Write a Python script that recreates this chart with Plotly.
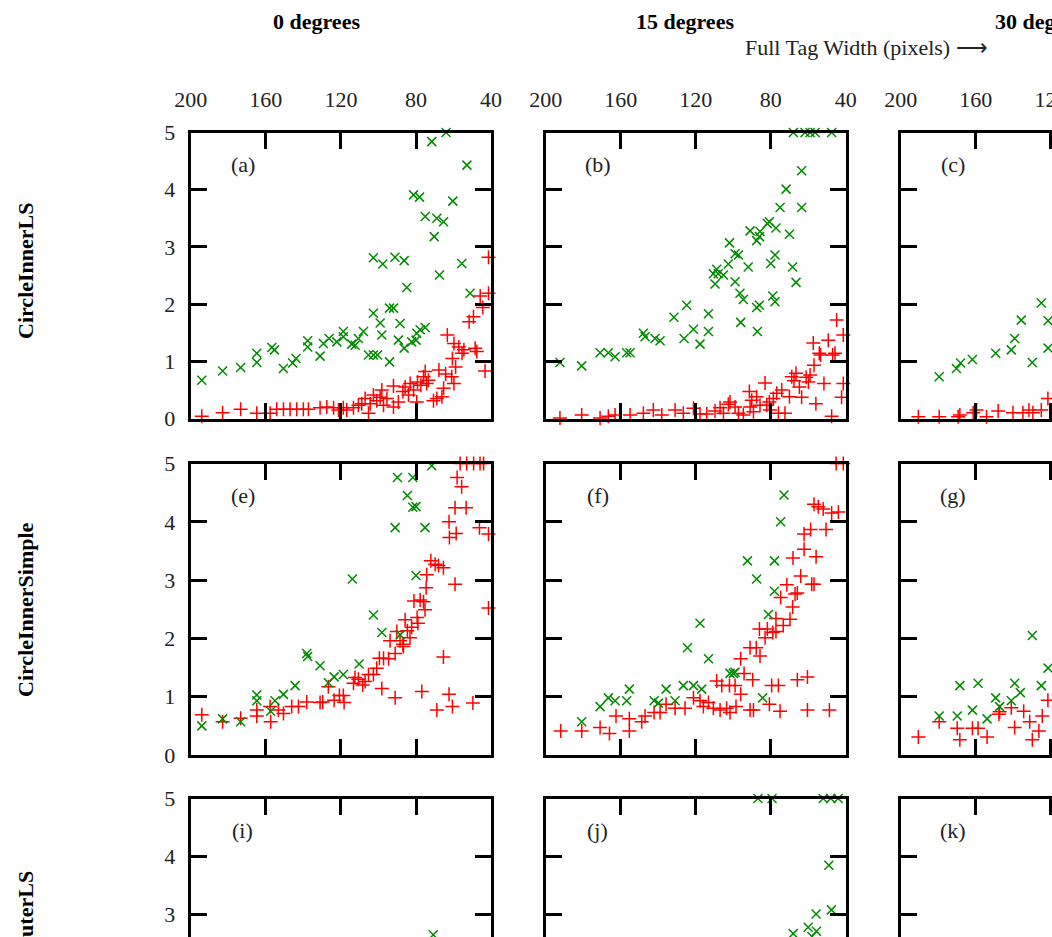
import plotly.graph_objects as go

W, H = 1052, 937
OFF = 0  # body margin removed by post_script below

# ---------------- data (tag width in pixels, value) ----------------
# panel (a)  CircleInnerLS, 0 degrees
a_grn_w = [194.1,183,173.4,164.8,164.8,156.8,155.4,150.6,145.7,143.9,137.7,137.7,131.1,129.3,126.3,122.2,118.7,118.7,114.2,112.4,110.7,108,105.3,102.7,100.5,102.7,99.1,98.2,94.1,92,94.1,89.4,88.5,86.3,82.3,80,79.6,75.1,77.8,102.7,97.7,91.2,86.3,84.9,81.3,78.1,75.1,70.3,68.9,65.3,67.5,71.6,64,60.4,55.6,52.9,51.2]
a_grn_v = [0.67,0.83,0.89,1.14,0.98,1.24,1.20,0.875,0.97,1.05,1.36,1.25,1.09,1.31,1.40,1.34,1.52,1.43,1.30,1.28,1.40,1.52,1.11,1.11,1.11,1.84,1.67,1.46,1.93,1.93,0.99,1.37,1.66,1.23,1.34,1.37,1.49,1.59,1.55,2.81,2.70,2.82,2.76,2.29,3.91,3.87,3.53,3.18,3.50,3.44,2.51,4.84,5.0,3.80,2.71,4.43,2.19]
a_red_w = [194.1,183,173.4,164.8,157.7,154.2,150.6,147.1,143.5,140,137.3,131.1,127.5,123.9,121.3,118.7,116.9,113.3,110.7,108.9,107.1,105.3,104.4,102.7,100.9,99.1,98.2,97.3,95.5,92,92,89.4,87,85.8,84,83.1,81.3,79.6,79.2,77.4,76,74.3,75.1,73.4,70.7,68.9,66.2,65.3,67.8,64.2,61,59.8,63.3,60.6,59.8,58.9,57.2,54.5,55.5,51.7,49.4,47.6,45.8,44.4,48.5,43.2,41.4,41.4,39.6]
a_red_v = [0.04,0.10,0.16,0.09,0.09,0.16,0.16,0.16,0.16,0.16,0.16,0.19,0.20,0.19,0.15,0.19,0.15,0.19,0.23,0.26,0.35,0.09,0.26,0.41,0.31,0.37,0.50,0.23,0.35,0.57,0.20,0.29,0.47,0.55,0.41,0.61,0.50,0.29,0.64,0.58,0.73,0.61,0.82,0.67,0.31,0.35,0.38,0.53,0.85,0.78,0.73,0.61,1.46,1.05,1.31,0.90,1.25,1.20,1.14,1.69,1.78,1.17,2.14,1.94,1.23,0.83,2.82,2.19,1.40]

# panel (b)  CircleInnerLS, 15 degrees
b_grn_w = [192.4,180.8,171,166.6,163,156.8,155,147.9,147,141.7,139,131.6,126.2,124.8,121.2,117.7,113.2,113.2,110.6,108.8,109.7,108,105.2,102.6,102,99,99,97.2,96.4,94.6,96,92,91,87.5,86,85.7,87.5,86,87.1,81.8,80.7,80,77.7,78.9,77.7,77.2,75,71.8,70,68.3,66.5,63.5,63.5,67.9,61.7,59,56.3,47.5]
b_grn_v = [0.98,0.92,1.15,1.15,1.08,1.15,1.15,1.49,1.43,1.40,1.36,1.77,1.40,1.98,1.56,1.30,1.83,1.52,2.53,2.61,2.35,2.53,2.51,2.70,3.07,2.39,2.88,2.86,2.19,2.08,1.68,2.65,3.28,3.11,3.18,3.27,1.94,1.98,1.52,3.41,3.44,2.71,2.86,2.14,2.04,3.33,3.69,4.01,3.22,2.65,2.38,4.33,3.69,5.0,5.0,5.0,5.0,5.0]
b_red_w = [192.4,180.8,171,166.6,163,155,147.9,142.6,138.1,131,126.6,121.2,117.7,114.1,109.7,107,105.2,102.6,101.7,99,97.2,94.6,91.4,91,90.1,89.2,87.5,85.7,83,82.1,80.7,80.4,78.6,76.8,75.9,74.1,72.4,70,68.8,67.6,66.5,64.7,63.5,61.1,59.9,59,57.3,56.9,55.9,54.1,53.4,51.6,49.3,47.5,47,45.7,44.8,42.2,41.3,41.3,38.5]
b_red_v = [0.01,0.06,0.01,0.04,0.06,0.06,0.09,0.15,0.06,0.15,0.09,0.18,0.08,0.08,0.13,0.19,0.09,0.25,0.29,0.20,0.09,0.06,0.47,0.20,0.32,0.12,0.38,0.23,0.62,0.23,0.29,0.15,0.35,0.44,0.09,0.50,0.09,0.38,0.73,0.66,0.79,0.55,0.37,0.72,0.64,0.76,1.32,0.93,0.26,1.14,1.11,0.61,1.37,0.04,1.11,1.14,1.72,0.37,1.46,0.61,0.57]

# panel (c)  CircleInnerLS, 30 degrees (partly visible)
c_grn_w = [179.5,170.3,168.1,161.8,149.4,141.1,139.3,135.8,129.9,125.1,121.5,121.5]
c_grn_v = [0.73,0.875,0.97,1.03,1.14,1.20,1.40,1.72,0.98,2.02,1.71,1.23]
c_red_w = [190.6,179.5,169.4,168.5,161.4,159.6,154.3,148.1,140.2,134.9,131.7,129.6,125.1,121.6]
c_red_v = [0.03,0.03,0.03,0.06,0.10,0.15,0.03,0.13,0.10,0.10,0.15,0.10,0.15,0.35]

# panel (e)  CircleInnerSimple, 0 degrees
e_grn_w = [194.1,183,173.4,164.8,164.8,157.4,155.1,150.6,144.4,138.2,137.7,131.1,126.7,123.6,118.7,113.9,110.3,102.7,98.2,88.5,91.1,89.9,81.7,84.6,81.7,80,75.2,80,71.6]
e_grn_v = [0.50,0.62,0.57,1.03,0.93,0.75,0.93,1.04,1.19,1.74,1.69,1.53,1.24,1.34,1.38,3.02,1.56,2.40,2.10,2.06,3.90,4.76,4.76,4.45,4.25,4.26,3.90,3.08,4.96]
e_red_w = [194.1,183,173.4,164.8,164.8,157.4,157.7,153.3,150.6,146.2,142.6,138.2,131.1,129.7,126.7,123.6,120.8,118.7,118.3,113.3,112.5,110.7,108.4,107.1,105.3,102.7,100.9,99.5,97.3,94.6,98.2,93.8,91.1,91.1,90.2,88.5,87,86.7,85.8,84.6,83.2,82.3,81.1,79.4,79,77.8,76,75.2,74.6,74.3,72.1,69.8,68,65.4,76.9,68.9,65.4,62.4,60.6,59.2,62.2,62.4,58.6,59.2,53.3,58.1,55.7,49.7,46.2,41.4,41.4,39.6,56.5,53,49.3,45.9,44]
e_red_v = [0.69,0.57,0.63,0.77,0.67,0.57,0.83,0.77,0.71,0.83,0.83,0.91,0.90,0.91,1.17,0.94,1.02,1.02,0.90,1.23,1.33,1.30,1.20,1.26,1.38,1.38,1.49,1.66,1.66,1.65,1.14,1.96,1.74,0.98,2.12,1.96,1.90,1.86,2.32,2.13,2.01,2.19,2.64,2.36,2.26,2.66,2.63,2.49,2.87,3.09,3.33,3.27,3.25,3.21,1.09,0.77,1.68,1.04,0.83,2.93,3.73,4.00,3.80,4.24,4.24,4.76,4.60,0.89,3.90,3.79,2.52,4.15,5.0,5.0,5.0,5.0,5.0]

# panel (f)  CircleInnerSimple, 15 degrees
f_grn_w = [180.8,171,166.6,163,156.8,155.4,142.2,139.9,135.8,131,126.6,121.2,116.8,124.4,117.7,113.2,101.7,99,99.9,92.4,87.5,84.3,81.2,78,78,74.7,72.9]
f_grn_v = [0.57,0.83,0.98,0.93,0.93,1.13,0.93,0.89,1.13,0.93,1.19,1.19,1.13,1.84,2.26,1.65,1.40,1.42,1.40,3.33,3.02,0.98,2.41,2.81,3.33,4.00,4.46]
f_red_w = [192,180.8,171,166,162.5,155.4,155.4,148.8,147,142.2,139,135.8,131,125.7,121.2,117.7,115.9,113.2,110.6,107,103.5,101.7,98.5,108.8,106.1,102,99,96,96,94.2,91,89.6,91,89.2,87.7,86,85.7,83,81.8,80.7,79.5,75.9,78.9,77.2,77.2,75,74.7,73.3,71.4,69.7,68.3,67,65.8,68.1,65.8,64,62.2,62.2,60.4,58.7,58.1,56.9,60.4,56.9,55.8,54.6,52,50.5,48.7,47.5,43.9,45.1,41.3]
f_red_v = [0.41,0.41,0.47,0.37,0.67,0.41,0.62,0.57,0.67,0.73,0.73,0.87,0.80,0.80,0.98,0.93,0.83,0.90,0.80,0.77,0.80,0.73,0.83,1.27,1.19,1.19,1.19,1.04,1.65,1.40,1.84,1.29,0.77,0.77,1.84,2.16,1.70,2.01,2.16,0.87,1.19,1.19,2.10,2.34,2.12,0.75,2.70,2.22,2.92,2.33,2.54,2.76,2.78,3.38,1.29,3.07,3.53,3.79,1.34,3.87,2.93,2.93,0.77,4.30,3.40,4.26,4.22,3.87,0.77,4.15,4.17,5.0,5.0]

# panel (g)  CircleInnerSimple, 30 degrees (partly visible)
g_grn_w = [179.5,169.9,168.5,161.8,158.8,154,149.4,147.3,141.1,139.3,136.3,129.9,125.1,121.5]
g_grn_v = [0.67,0.67,1.19,0.77,1.23,0.62,0.98,0.83,0.93,1.23,1.07,2.05,1.19,1.49]
g_red_w = [190.6,179.5,169.9,168.5,161.8,158.8,154,147.7,147.3,141.1,139.3,134.5,131.3,129.9,126.4,124.6,121.6]
g_red_v = [0.31,0.57,0.46,0.26,0.46,0.46,0.31,0.70,0.74,0.81,0.47,0.75,0.57,0.26,0.41,0.67,0.94]

# panel (i)  CircleOuterLS, 0 degrees (partly visible)
i_grn_w = [70.8]
i_grn_v = [2.65]
i_red_w = []
i_red_v = []

# panel (j)  CircleOuterLS, 15 degrees (partly visible)
j_grn_w = [86.8,79.3,52,48,44,49,47.6,55.8,60,55.6,68,58]
j_grn_v = [5.0,5.0,5.0,5.0,5.0,3.85,3.08,3.01,2.78,2.71,2.67,2.62]
j_red_w = []
j_red_v = []

# panel (k)  CircleOuterLS, 30 degrees (partly visible)
k_grn_w = []
k_grn_v = []
k_red_w = []
k_red_v = []

col_titles = ["0 degrees", "15 degrees", "30 degrees"]
row_titles = ["CircleInnerLS", "CircleInnerSimple", "CircleOuterLS"]
panel_tags = ["(a)", "(b)", "(c)", "(e)", "(f)", "(g)", "(i)", "(j)", "(k)"]
x_axis_title = "Full Tag Width (pixels) \u27f6"
x_ticks = [200, 160, 120, 80, 40]
y_ticks = [0, 1, 2, 3, 4, 5]

panels = [
    (a_red_w, a_red_v, a_grn_w, a_grn_v),
    (b_red_w, b_red_v, b_grn_w, b_grn_v),
    (c_red_w, c_red_v, c_grn_w, c_grn_v),
    (e_red_w, e_red_v, e_grn_w, e_grn_v),
    (f_red_w, f_red_v, f_grn_w, f_grn_v),
    (g_red_w, g_red_v, g_grn_w, g_grn_v),
    (i_red_w, i_red_v, i_grn_w, i_grn_v),
    (j_red_w, j_red_v, j_grn_w, j_grn_v),
    (k_red_w, k_red_v, k_grn_w, k_grn_v),
]

# ---------------- geometry (page pixels) ----------------
RIGHT = W + OFF
BOTTOM = H + OFF
col_px = [(190.7, 491.1), (545.7, 845.7), (900.7, RIGHT)]
row_px = [(132.5, 418.5), (463.5, 755.0), (798.5, BOTTOM)]
x_ranges = [[200, 40], [200, 40], [200, 200 - (RIGHT - 900.7) * 40 / 75.1]]
y_ranges = [[0, 5], [0, 5], [5 - (BOTTOM - 798.5) / 58.0, 5]]

FONT = "Liberation Serif"
RED = "#ff0000"
GREEN = "#008a00"

fig = go.Figure()
layout = dict(width=W, height=H, margin=dict(l=0, r=0, t=0, b=0, pad=0, autoexpand=False),
              paper_bgcolor="white", plot_bgcolor="white", showlegend=False,
              font=dict(family=FONT, size=22, color="black"))
annotations = []

def px2fx(x):
    return (x - OFF) / W

def px2fy(y):
    return 1 - (y - OFF) / H

for r in range(3):
    for c in range(3):
        k = r * 3 + c
        n = k + 1
        sfx = "" if n == 1 else str(n)
        rw, rv, gw, gv = panels[k]
        xa, ya = "x" + sfx, "y" + sfx
        fig.add_trace(go.Scatter(x=rw, y=rv, mode="markers", xaxis=xa, yaxis=ya,
                                 cliponaxis=False,
                                 marker=dict(symbol="cross-thin", size=10, color=RED,
                                             line=dict(width=1.5, color=RED))))
        fig.add_trace(go.Scatter(x=gw, y=gv, mode="markers", xaxis=xa, yaxis=ya,
                                 cliponaxis=False,
                                 marker=dict(symbol="x-thin", size=9, color=GREEN,
                                             line=dict(width=1.5, color=GREEN))))
        x0, x1 = col_px[c]
        y0, y1 = row_px[r]
        xaxis = dict(domain=[px2fx(x0), min(1.0, px2fx(x1))], range=x_ranges[c], anchor=ya,
                     tickmode="array", tickvals=x_ticks, ticks="inside", ticklen=16,
                     tickwidth=2.5, tickcolor="black", showline=True, linewidth=3,
                     linecolor="black", showgrid=False, zeroline=False,
                     automargin=False, ticklabeloverflow="allow",
                     tickfont=dict(family=FONT, size=22, color="#222222"))
        if r == 0:
            xaxis.update(side="top", mirror="ticks", showticklabels=True,
                         ticklabelstandoff=14)
        elif r == 1:
            xaxis.update(side="bottom", mirror="ticks", showticklabels=False)
        else:
            xaxis.update(side="top", mirror=False, showticklabels=False)
        yaxis = dict(domain=[max(0.0, px2fy(y1)), px2fy(y0)], range=y_ranges[r], anchor=xa,
                     tickmode="array", tickvals=y_ticks, ticks="inside", ticklen=16,
                     tickwidth=2.5, tickcolor="black", showline=True, linewidth=3,
                     linecolor="black", showgrid=False, zeroline=False,
                     automargin=False,
                     tickfont=dict(family=FONT, size=22, color="#222222"))
        if c == 0:
            yaxis.update(showticklabels=True, ticklabelstandoff=8, mirror="ticks")
        elif c == 1:
            yaxis.update(showticklabels=False, mirror="ticks")
        else:
            yaxis.update(showticklabels=False, mirror=False)
        layout["xaxis" + sfx] = xaxis
        layout["yaxis" + sfx] = yaxis
        annotations.append(dict(text=panel_tags[k], xref="paper", yref="paper",
                                x=px2fx(x0 + 52), y=px2fy(y0 + 32), showarrow=False,
                                xanchor="center", yanchor="middle",
                                font=dict(family=FONT, size=22, color="#222222")))

col_title_px = [(316, 21), (685, 21), (1044, 21)]
for t, (x, y) in zip(col_titles, col_title_px):
    annotations.append(dict(text="<b>" + t + "</b>", xref="paper", yref="paper",
                            x=px2fx(x), y=px2fy(y), showarrow=False,
                            xanchor="center", yanchor="middle",
                            font=dict(family=FONT, size=22, color="black")))

annotations.append(dict(text=x_axis_title, xref="paper", yref="paper",
                        x=px2fx(743), y=px2fy(47), showarrow=False,
                        xanchor="left", yanchor="middle",
                        font=dict(family=FONT, size=22, color="#222222")))

row_title_px = [(25, 271), (25, 610), (25, 941)]
for t, (x, y) in zip(row_titles, row_title_px):
    annotations.append(dict(text="<b>" + t + "</b>", xref="paper", yref="paper",
                            x=px2fx(x), y=px2fy(y), showarrow=False, textangle=-90,
                            xanchor="center", yanchor="middle",
                            font=dict(family=FONT, size=22, color="black")))

layout["annotations"] = annotations
fig.update_layout(**layout)

fig.write_html("out.html", config={"displayModeBar": False},
               post_script="document.body.style.margin='0px';"
                           "document.body.style.overflow='hidden';")
